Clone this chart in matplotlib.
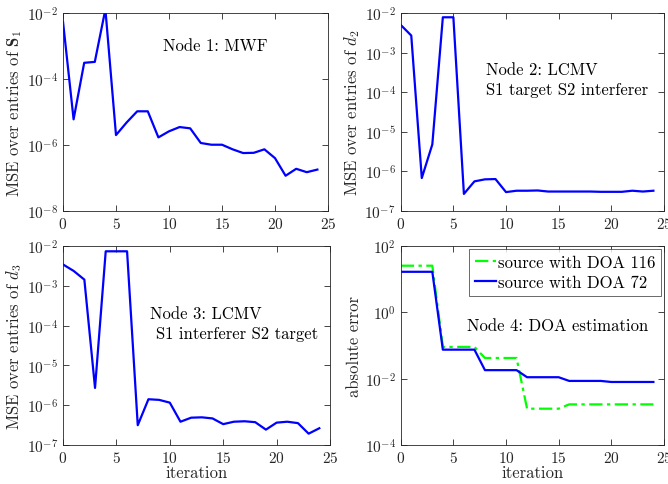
import numpy as np
import matplotlib
matplotlib.use('Agg')
import matplotlib.pyplot as plt

plt.rcParams['font.family'] = 'serif'
plt.rcParams['font.serif'] = ['cmr10']
plt.rcParams['mathtext.fontset'] = 'cm'
plt.rcParams['axes.formatter.use_mathtext'] = True
plt.rcParams['axes.unicode_minus'] = False

# data
it = list(range(25))
mse_s1 = [5.5e-3, 6e-6, 3.1e-4, 3.3e-4, 1.3e-2, 2e-6, 4.8e-6, 1.05e-5, 1.05e-5, 1.7e-6,
          2.6e-6, 3.5e-6, 3.2e-6, 1.15e-6, 1.02e-6, 1.02e-6, 7.4e-7, 5.7e-7, 5.8e-7, 7.4e-7,
          4e-7, 1.17e-7, 1.9e-7, 1.5e-7, 1.8e-7]
mse_d2 = [5e-3, 2.7e-3, 6.8e-7, 4.8e-6, 7.8e-3, 7.8e-3, 2.7e-7, 5.6e-7, 6.3e-7, 6.4e-7,
          3.0e-7, 3.25e-7, 3.25e-7, 3.3e-7, 3.1e-7, 3.1e-7, 3.1e-7, 3.1e-7, 3.1e-7, 3.05e-7,
          3.05e-7, 3.05e-7, 3.25e-7, 3.1e-7, 3.25e-7]
mse_d3 = [3.5e-3, 2.4e-3, 1.45e-3, 2.7e-6, 7.5e-3, 7.5e-3, 7.5e-3, 3.1e-7, 1.4e-6, 1.35e-6,
          1.15e-6, 3.8e-7, 4.8e-7, 4.9e-7, 4.6e-7, 3.3e-7, 3.8e-7, 3.9e-7, 3.7e-7, 2.4e-7,
          3.6e-7, 3.8e-7, 3.5e-7, 1.9e-7, 2.6e-7]
err_116 = [26]*4 + [0.091]*4 + [0.042]*4 + [1.23e-3]*4 + [1.66e-3]*9
err_72 = [17]*4 + [0.075]*4 + [0.018]*4 + [0.011]*4 + [8.5e-3]*4 + [7.9e-3]*5

grey = '#262626'
fig = plt.figure(figsize=(6.68, 4.85), dpi=100)
ax1 = fig.add_axes([0.0943, 0.5629, 0.3967, 0.4082])
ax2 = fig.add_axes([0.5999, 0.5629, 0.394, 0.4082])
ax3 = fig.add_axes([0.0943, 0.0810, 0.3997, 0.409])
ax4 = fig.add_axes([0.5999, 0.0810, 0.394, 0.409])

ax1.plot(it, mse_s1, color='b', lw=1.6)
ax2.plot(it, mse_d2, color='b', lw=1.6)
ax3.plot(it, mse_d3, color='b', lw=1.6)
ax4.plot(it, err_116, color='#00ff00', lw=1.6, ls=(0, (6, 2, 1.5, 2)), label='source with DOA 116')
ax4.plot(it, err_72, color='b', lw=1.6, label='source with DOA 72')

lims = [(1e-8, 1e-2), (1e-7, 1e-2), (1e-7, 1e-2), (1e-4, 1e2)]
ticks = [[1e-8, 1e-6, 1e-4, 1e-2],
         [1e-7, 1e-6, 1e-5, 1e-4, 1e-3, 1e-2],
         [1e-7, 1e-6, 1e-5, 1e-4, 1e-3, 1e-2],
         [1e-4, 1e-2, 1e0, 1e2]]
for ax, lim, tk in zip([ax1, ax2, ax3, ax4], lims, ticks):
    ax.set_yscale('log')
    ax.set_ylim(lim)
    ax.set_xlim(0, 25)
    ax.set_yticks(tk)
    ax.set_xticks([0, 5, 10, 15, 20, 25])
    ax.yaxis.set_minor_locator(matplotlib.ticker.NullLocator())
    ax.tick_params(direction='in', top=True, right=True, labelsize=11, colors=grey,
                   length=4, width=0.6)
    for s in ax.spines.values():
        s.set_color(grey)
        s.set_linewidth(0.6)

ax1.set_ylabel(r'MSE over entries of $\mathbf{S}_1$', fontsize=12, color=grey, labelpad=2)
ax2.set_ylabel(r'MSE over entries of $d_2$', fontsize=12, color=grey, labelpad=2)
ax3.set_ylabel(r'MSE over entries of $d_3$', fontsize=12, color=grey, labelpad=2)
ax4.set_ylabel('absolute error', fontsize=12, color=grey, labelpad=2)
ax3.set_xlabel('iteration', fontsize=12, color=grey, labelpad=0)
ax4.set_xlabel('iteration', fontsize=12, color=grey, labelpad=0)

ax1.text(9.4, 1.05e-3, 'Node 1: MWF', fontsize=12, va='center')
ax2.text(8.1, 3.8e-4, 'Node 2: LCMV', fontsize=12, va='center')
ax2.text(8.1, 1.15e-4, 'S1 target S2 interferer', fontsize=12, va='center')
ax3.text(8.1, 2.0e-4, 'Node 3: LCMV', fontsize=12, va='center')
ax3.text(8.7, 6.5e-5, 'S1 interferer S2 target', fontsize=12, va='center')
ax4.text(6.3, 0.42, 'Node 4: DOA estimation', fontsize=12, va='center')

leg = ax4.legend(loc='upper right', fontsize=12, handlelength=1.3, handletextpad=0.1,
                 borderpad=0.35, labelspacing=0.3, fancybox=False, borderaxespad=0.15)
leg.get_frame().set_edgecolor(grey)
leg.get_frame().set_linewidth(0.6)

fig.savefig('out.png', dpi=100)
